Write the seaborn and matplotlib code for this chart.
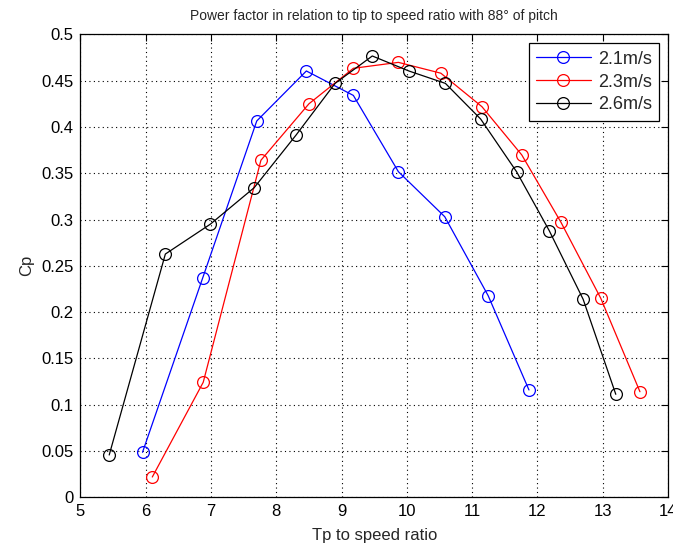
import matplotlib
matplotlib.use("Agg")
import matplotlib.pyplot as plt
import seaborn as sns
import numpy as np

sns.set_style("white")
plt.rcParams['font.family'] = ['Liberation Sans', 'DejaVu Sans']

x_21 = [5.95, 6.87, 7.70, 8.46, 9.18, 9.87, 10.58, 11.245, 11.87]
y_21 = [0.0486, 0.2365, 0.4064, 0.4604, 0.434, 0.3516, 0.303, 0.2177, 0.1159]

x_23 = [6.10, 6.88, 7.764, 8.50, 9.18, 9.87, 10.52, 11.15, 11.76, 12.36, 12.97, 13.57]
y_23 = [0.0219, 0.1242, 0.364, 0.425, 0.4633, 0.4697, 0.458, 0.4218, 0.3697, 0.297, 0.2149, 0.114]

x_26 = [5.44, 6.30, 6.99, 7.66, 8.30, 8.90, 9.47, 10.03, 10.59, 11.13, 11.68, 12.18, 12.70, 13.20]
y_26 = [0.0457, 0.2627, 0.295, 0.3343, 0.391, 0.447, 0.4766, 0.4604, 0.447, 0.4085, 0.3516, 0.288, 0.2138, 0.1112]

series = [("2.1m/s", x_21, y_21, "#0000ff"),
          ("2.3m/s", x_23, y_23, "#ff0000"),
          ("2.6m/s", x_26, y_26, "#000000")]

xticks = [5, 6, 7, 8, 9, 10, 11, 12, 13, 14]
yticks = [0, 0.05, 0.1, 0.15, 0.2, 0.25, 0.3, 0.35, 0.4, 0.45, 0.5]
ytick_labels = ["0", "0.05", "0.1", "0.15", "0.2", "0.25", "0.3", "0.35", "0.4", "0.45", "0.5"]

fig = plt.figure(figsize=(6.73, 5.49), dpi=100)
ax = fig.add_axes([0.1196, 0.0942, 0.8730, 0.8433])

for label, xs, ys, c in series:
    sns.lineplot(x=xs, y=ys, ax=ax, sort=False, estimator=None, color=c,
                 linewidth=0.9, marker='o', markersize=8.5, markerfacecolor='none',
                 markeredgecolor=c, markeredgewidth=0.9, label=label)

ax.set_xlim(5, 14)
ax.set_ylim(0, 0.5)
ax.set_xticks(xticks)
ax.set_xticklabels([str(t) for t in xticks])
ax.set_yticks(yticks)
ax.set_yticklabels(ytick_labels)
ax.grid(True, color='black', linestyle=(0, (1, 3)), linewidth=0.8)
ax.tick_params(direction='in', top=True, right=True, length=5, width=0.8,
               labelsize=12, colors='black', pad=5)
for s in ax.spines.values():
    s.set_visible(True)
    s.set_color('black')
    s.set_linewidth(0.9)

ax.set_title("Power factor in relation to tip to speed ratio with 88° of pitch",
             fontsize=10, pad=10)
ax.set_xlabel("Tp to speed ratio", fontsize=12, labelpad=6)
ax.set_ylabel("Cp", fontsize=12, labelpad=5)

leg = ax.legend(loc='upper right', fontsize=13, frameon=True, fancybox=False,
                edgecolor='black', framealpha=1, handlelength=3.0,
                borderaxespad=0.5, labelspacing=0.33, handletextpad=0.4,
                borderpad=0.4)
leg.get_frame().set_linewidth(0.9)

fig.savefig("out.png", dpi=100)
